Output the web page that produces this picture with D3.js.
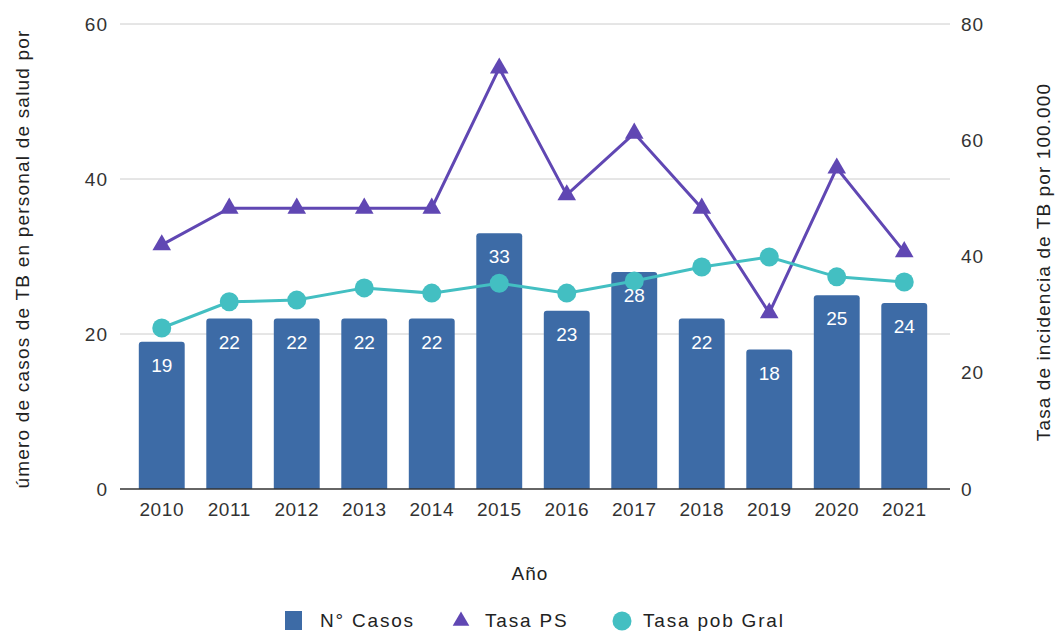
<!DOCTYPE html>
<html>
<head>
<meta charset="utf-8">
<script src="https://cdn.jsdelivr.net/npm/d3@7"></script>
<style>
  body { margin: 0; background: #fff; }
  text { font-family: "Liberation Sans", Arial, sans-serif; }
</style>
</head>
<body>
<script>
var w = 1059;
var h = 632;

var years = ["2010", "2011", "2012", "2013", "2014", "2015", "2016", "2017", "2018", "2019", "2020", "2021"];
var casos = [19, 22, 22, 22, 22, 33, 23, 28, 22, 18, 25, 24];
var tasaPS = [42.0, 48.3, 48.3, 48.3, 48.3, 72.4, 50.6, 61.2, 48.3, 30.3, 55.2, 40.8];
var tasaPob = [27.7, 32.2, 32.5, 34.6, 33.7, 35.4, 33.7, 35.8, 38.2, 39.9, 36.5, 35.6];
var leftTicks = [0, 20, 40, 60];
var rightTicks = [0, 20, 40, 60, 80];
var legendNames = ["N° Casos", "Tasa PS", "Tasa pob Gral"];

var colBar = "#3d6ba6";
var colPS = "#6047b3";
var colPob = "#43bfc2";

var svg = d3.select("body")
            .append("svg")
            .attr("width", w)
            .attr("height", h);

var x = d3.scaleBand()
    .domain(years)
    .range([128, 938])
    .paddingInner(0.32)
    .paddingOuter(0.16);

var yL = d3.scaleLinear().domain([0, 60]).range([489, 24]);
var yR = d3.scaleLinear().domain([0, 80]).range([489, 24]);

// gridlines
svg.selectAll("line.grid")
    .data(leftTicks.slice(1))
    .enter()
    .append("line")
    .attr("class", "grid")
    .attr("x1", 120)
    .attr("x2", 950)
    .attr("y1", function(d){ return yL(d); })
    .attr("y2", function(d){ return yL(d); })
    .attr("stroke", "#cccccc")
    .attr("stroke-width", 1);

// left axis
var axL = svg.append("g")
    .attr("transform", "translate(120,0)")
    .call(d3.axisLeft(yL).tickValues(leftTicks).tickSize(0).tickPadding(12));
axL.select(".domain").remove();
axL.selectAll("text")
    .attr("font-size", "19px")
    .attr("letter-spacing", "1px")
    .attr("fill", "#333");

// right axis
var axR = svg.append("g")
    .attr("transform", "translate(950,0)")
    .call(d3.axisRight(yR).tickValues(rightTicks).tickSize(0).tickPadding(11));
axR.select(".domain").remove();
axR.selectAll("text")
    .attr("font-size", "19px")
    .attr("letter-spacing", "1px")
    .attr("fill", "#333");

// bars
svg.selectAll("rect.bar")
    .data(casos)
    .enter()
    .append("rect")
    .attr("class", "bar")
    .attr("x", function(d, i){ return x(years[i]); })
    .attr("y", function(d){ return yL(d); })
    .attr("width", x.bandwidth())
    .attr("height", function(d){ return yL(0) - yL(d) + 3; })
    .attr("rx", 3)
    .attr("fill", colBar);

// baseline
svg.append("rect")
    .attr("x", 120)
    .attr("y", yL(0))
    .attr("width", 830)
    .attr("height", 10)
    .attr("fill", "#fff");
svg.append("line")
    .attr("x1", 120)
    .attr("x2", 950)
    .attr("y1", yL(0))
    .attr("y2", yL(0))
    .attr("stroke", "#333")
    .attr("stroke-width", 1.5);

// x axis labels
var axX = svg.append("g")
    .attr("transform", "translate(0," + yL(0) + ")")
    .call(d3.axisBottom(x).tickSize(0).tickPadding(14));
axX.select(".domain").remove();
axX.selectAll("text")
    .attr("font-size", "19px")
    .attr("letter-spacing", "0.6px")
    .attr("fill", "#333");

var cx = function(d, i){ return x(years[i]) + x.bandwidth() / 2; };

// Tasa PS line
svg.append("path")
    .datum(tasaPS)
    .attr("fill", "none")
    .attr("stroke", colPS)
    .attr("stroke-width", 3)
    .attr("d", d3.line().x(cx).y(function(d){ return yR(d); }));

svg.selectAll("path.tri")
    .data(tasaPS)
    .enter()
    .append("path")
    .attr("class", "tri")
    .attr("d", d3.symbol().type(d3.symbolTriangle).size(150))
    .attr("transform", function(d, i){ return "translate(" + cx(d, i) + "," + yR(d) + ")"; })
    .attr("fill", colPS);

// Tasa pob line
svg.append("path")
    .datum(tasaPob)
    .attr("fill", "none")
    .attr("stroke", colPob)
    .attr("stroke-width", 3)
    .attr("d", d3.line().x(cx).y(function(d){ return yR(d); }));

svg.selectAll("circle.pob")
    .data(tasaPob)
    .enter()
    .append("circle")
    .attr("class", "pob")
    .attr("cx", cx)
    .attr("cy", function(d){ return yR(d); })
    .attr("r", 9.5)
    .attr("fill", colPob);

// bar labels
svg.selectAll("text.val")
    .data(casos)
    .enter()
    .append("text")
    .attr("class", "val")
    .text(function(d){ return d; })
    .attr("x", cx)
    .attr("y", function(d){ return yL(d) + 30; })
    .attr("text-anchor", "middle")
    .attr("font-family", "Roboto")
    .attr("font-size", "19px")
    .attr("fill", "#fff");

// axis titles
svg.append("text")
    .text("Año")
    .attr("x", 530)
    .attr("y", 580)
    .attr("text-anchor", "middle")
    .attr("font-size", "19px")
    .attr("letter-spacing", "1px")
    .attr("fill", "#222");

svg.append("text")
    .text("úmero de casos de TB en personal de salud por")
    .attr("transform", "translate(29,259) rotate(-90)")
    .attr("text-anchor", "middle")
    .attr("font-size", "19px")
    .attr("letter-spacing", "1.2px")
    .attr("fill", "#222");

svg.append("text")
    .text("Tasa de incidencia de TB por 100.000")
    .attr("transform", "translate(1050,262) rotate(-90)")
    .attr("text-anchor", "middle")
    .attr("font-size", "19px")
    .attr("letter-spacing", "1.1px")
    .attr("fill", "#222");

// legend
var lg = svg.append("g").attr("transform", "translate(0,620)");
lg.append("rect")
    .attr("x", 285).attr("y", -9)
    .attr("width", 17).attr("height", 19)
    .attr("fill", colBar);
lg.append("path")
    .attr("d", d3.symbol().type(d3.symbolTriangle).size(120))
    .attr("transform", "translate(461,1)")
    .attr("fill", colPS);
lg.append("circle")
    .attr("cx", 622).attr("cy", 1).attr("r", 9.5)
    .attr("fill", colPob);
lg.selectAll("text")
    .data(legendNames)
    .enter()
    .append("text")
    .text(function(d){ return d; })
    .attr("x", function(d, i){ return [320, 485, 643][i]; })
    .attr("y", 7)
    .attr("font-size", "19px")
    .attr("letter-spacing", "1.8px")
    .attr("fill", "#222");
</script>
</body>
</html>
